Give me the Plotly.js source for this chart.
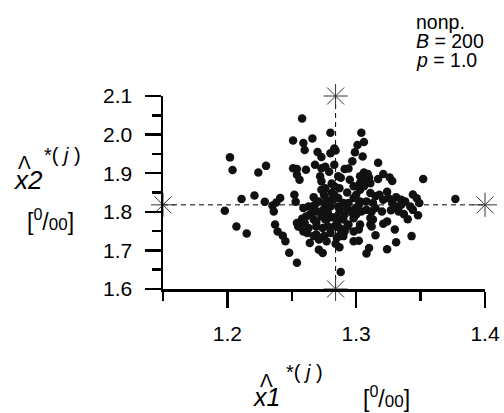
<!DOCTYPE html>
<html>
<head>
<meta charset="utf-8">
<script src="https://cdn.plot.ly/plotly-3.0.1.min.js"></script>
<style>
html,body{margin:0;padding:0;background:#fff;}
#chart{width:504px;height:413px;}
</style>
</head>
<body>
<div id="chart"></div>
<script>
// Bootstrap replicate estimates (x1*, x2*) in per mille
const x1Star = [
1.258,1.280,1.304,1.251,1.259,1.266,1.260,1.306,1.301,1.283,
1.280,1.270,1.273,1.299,1.305,1.202,1.204,1.224,1.230,1.251,
1.254,1.254,1.261,1.268,1.273,1.283,1.279,1.272,1.291,1.294,
1.297,1.317,1.288,1.306,1.309,1.303,1.307,1.310,1.321,1.326,
1.317,1.328,1.352,1.303,1.303,1.281,1.276,1.273,1.283,1.293,
1.324,1.344,1.347,1.331,1.377,1.211,1.221,1.229,1.241,1.238,
1.235,1.252,1.253,1.267,1.268,1.275,1.277,1.283,1.286,1.298,
1.303,1.308,1.313,1.321,1.315,1.338,1.342,1.349,1.198,1.236,
1.259,1.267,1.274,1.280,1.287,1.293,1.299,1.304,1.327,1.331,
1.337,1.340,1.348,1.207,1.215,1.237,1.239,1.243,1.245,1.255,
1.258,1.261,1.259,1.263,1.269,1.269,1.274,1.276,1.281,1.283,
1.275,1.287,1.290,1.294,1.298,1.303,1.311,1.321,1.324,1.330,
1.315,1.343,1.331,1.324,1.302,1.298,1.284,1.287,1.264,1.271,
1.274,1.248,1.254,1.310,1.308,1.288,1.266,1.271,1.278,1.285,
1.291,1.297,1.300,1.308,1.312,1.273,1.269,1.278,1.287,1.291,
1.298,1.262,1.267,1.280,1.286,1.290,1.276,1.311,1.318,1.325,
1.333,1.311,1.282,1.294,1.273,1.287,1.300,1.306,1.264,1.256,
1.277,1.290,1.302,1.313,1.320,1.328,1.335,1.281,1.298,1.311,
1.277,1.285,1.293,1.269,1.263,1.254,1.260,1.302,1.315,1.285,
1.271,1.344,1.335,1.295,1.286,1.256,1.276,1.284,1.312,1.267
];
const x2Star = [
2.042,2.005,2.005,1.985,1.978,1.990,1.960,1.981,1.973,1.964,
1.952,1.955,1.942,1.954,1.943,1.941,1.908,1.902,1.919,1.913,
1.911,1.896,1.909,1.922,1.913,1.922,1.904,1.892,1.911,1.912,
1.931,1.927,1.888,1.902,1.898,1.892,1.883,1.889,1.898,1.889,
1.885,1.880,1.885,1.874,1.857,1.873,1.861,1.857,1.866,1.850,
1.852,1.845,1.835,1.838,1.833,1.833,1.842,1.826,1.836,1.824,
1.816,1.844,1.826,1.838,1.818,1.844,1.831,1.844,1.836,1.836,
1.827,1.827,1.823,1.831,1.840,1.827,1.814,1.823,1.803,1.801,
1.810,1.801,1.804,1.814,1.805,1.809,1.807,1.801,1.804,1.814,
1.794,1.781,1.791,1.762,1.744,1.767,1.749,1.738,1.724,1.762,
1.782,1.788,1.749,1.758,1.773,1.741,1.758,1.780,1.786,1.762,
1.737,1.738,1.780,1.767,1.783,1.767,1.784,1.769,1.775,1.754,
1.739,1.737,1.721,1.703,1.725,1.724,1.717,1.708,1.719,1.702,
1.693,1.694,1.668,1.706,1.692,1.644,1.814,1.827,1.797,1.771,
1.793,1.797,1.793,1.805,1.801,1.788,1.762,1.762,1.758,1.749,
1.749,1.745,1.737,1.745,1.814,1.823,1.818,1.849,1.844,1.836,
1.801,1.767,1.831,1.823,1.879,1.861,1.844,1.866,1.793,1.762,
1.724,1.737,1.754,1.780,1.801,1.823,1.818,1.849,1.866,1.874,
1.780,1.788,1.762,1.801,1.814,1.771,1.771,1.818,1.810,1.732,
1.728,1.805,1.831,1.883,1.892,1.883,1.917,1.959,1.762,1.780
];
// Original-sample estimate (reference cross)
const centerX1 = 1.284;
const centerX2 = 1.818;
// Axis ranges and ticks
const xRange = [1.15, 1.40];
const yRange = [1.60, 2.10];
const xTickVals = [1.2, 1.3, 1.4];
const xTickText = ['1.2', '1.3', '1.4'];
const yTickVals = [1.6, 1.7, 1.8, 1.9, 2.0, 2.1];
const yTickText = ['1.6', '1.7', '1.8', '1.9', '2.0', '2.1'];
const infoLines = ['nonp.', '<i>B</i> = 200', '<i>p</i> = 1.0'];

const FONT = 'Liberation Sans, Arial, Helvetica, sans-serif';
const W = 504, H = 413;
const M = {l: 163, r: 19, t: 96, b: 124};
const PW = W - M.l - M.r, PH = H - M.t - M.b;

const traces = [
  {
    x: [xRange[0], xRange[1]], y: [centerX2, centerX2],
    mode: 'lines', line: {color: '#000', width: 1, dash: '5px,4px'},
    hoverinfo: 'skip', showlegend: false, cliponaxis: false
  },
  {
    x: [centerX1, centerX1], y: [yRange[0], yRange[1]],
    mode: 'lines', line: {color: '#000', width: 1, dash: '5px,4px'},
    hoverinfo: 'skip', showlegend: false, cliponaxis: false
  },
  {
    x: x1Star, y: x2Star, mode: 'markers',
    marker: {color: '#111', size: 8.5, line: {width: 0}},
    showlegend: false, cliponaxis: false
  },
  {
    x: [xRange[0], xRange[1], centerX1, centerX1],
    y: [centerX2, centerX2, yRange[1], yRange[0]],
    mode: 'markers',
    marker: {symbol: 'asterisk-open', size: 20, color: '#333', line: {color: '#333', width: 1}},
    showlegend: false, cliponaxis: false
  }
];

const axisCommon = {
  showgrid: false, zeroline: false, showline: true,
  linecolor: '#000', linewidth: 2.5,
  ticks: 'outside', ticklen: 16, tickwidth: 2.5, tickcolor: '#000',
  tickfont: {family: FONT, size: 21, color: '#000'},
  fixedrange: true
};

// positions given in figure pixels (from top-left), converted to paper coords
const annSpec = [
  // y axis title
  {px: 24, py: 162, text: 'Λ', size: 19},
  {px: 62, py: 155, text: '*( <i>j</i> )', size: 20},
  {px: 28, py: 180, text: '<i>x2</i>', size: 26},
  {px: 50, py: 220, text: '[<sup>0</sup>/<span style="font-size:17px">00</span>]', size: 23},
  // x axis title
  {px: 266, py: 380, text: 'Λ', size: 19},
  {px: 304, py: 372, text: '*( <i>j</i> )', size: 20},
  {px: 266, py: 397, text: '<i>x1</i>', size: 25},
  {px: 386, py: 397, text: '[<sup>0</sup>/<span style="font-size:17px">00</span>]', size: 23},
  // info text
  {px: 414, py: 22, text: infoLines[0], size: 19.5, left: true},
  {px: 414, py: 41, text: infoLines[1], size: 19.5, left: true},
  {px: 414, py: 60, text: infoLines[2], size: 19.5, left: true}
];
const annotations = annSpec.map(a => ({
  xref: 'paper', yref: 'paper',
  x: (a.px - M.l) / PW,
  y: (H - a.py - M.b) / PH,
  xanchor: a.left ? 'left' : 'center', yanchor: 'middle',
  text: a.text, showarrow: false,
  font: {family: FONT, size: a.size, color: '#000'}
}));

const layout = {
  width: W, height: H,
  margin: {l: M.l, r: M.r, t: M.t, b: M.b, pad: 0},
  paper_bgcolor: '#fff', plot_bgcolor: '#fff',
  xaxis: Object.assign({}, axisCommon, {
    range: xRange, tickvals: xTickVals, ticktext: xTickText,
    ticklabelstandoff: 8,
    minor: {tickvals: [1.15, 1.25, 1.35], ticklen: 9, tickwidth: 2.5, tickcolor: '#000', ticks: 'outside', showgrid: false}
  }),
  yaxis: Object.assign({}, axisCommon, {
    range: yRange, tickvals: yTickVals, ticktext: yTickText,
    ticklabelstandoff: 8,
    minor: {tickvals: [1.65, 1.75, 1.85, 1.95, 2.05], ticklen: 9, tickwidth: 2.5, tickcolor: '#000', ticks: 'outside', showgrid: false}
  }),
  annotations: annotations,
  showlegend: false
};

Plotly.newPlot('chart', traces, layout, {displayModeBar: false, staticPlot: true});
</script>
</body>
</html>
